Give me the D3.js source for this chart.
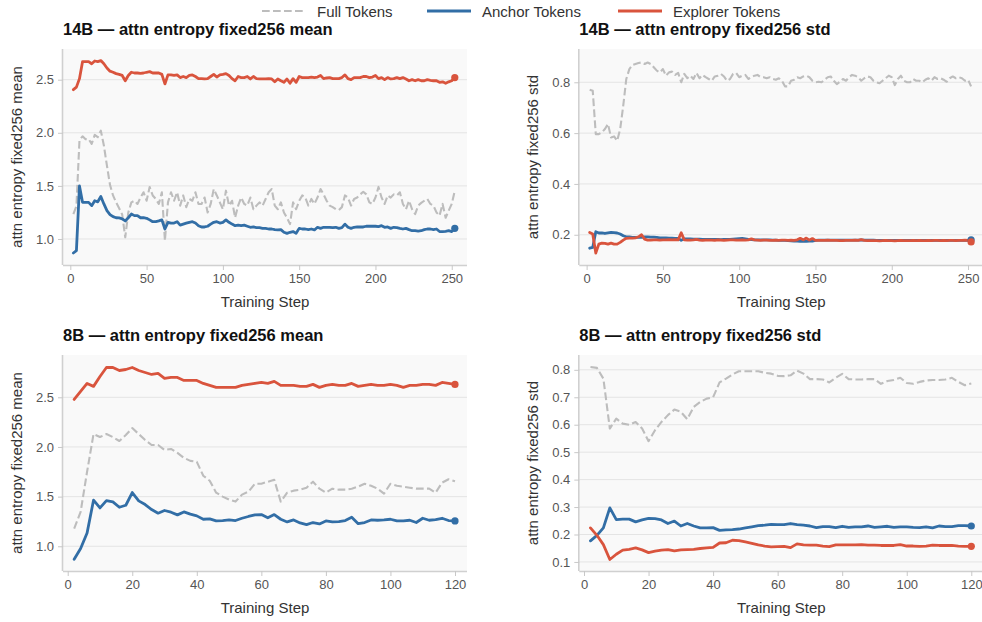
<!DOCTYPE html>
<html>
<head>
<meta charset="utf-8">
<script src="https://cdn.jsdelivr.net/npm/d3@7"></script>
<style>
  html, body { margin: 0; padding: 0; background: #ffffff; }
  svg { display: block; }
  text { font-family: "Liberation Sans", Arial, Helvetica, sans-serif; }
</style>
</head>
<body>
<svg id="chart" width="982" height="622"></svg>
<script>
// ---- data -------------------------------------------------------------
const seriesNames = ["Full Tokens", "Anchor Tokens", "Explorer Tokens"];

const steps14 = [2,4,6,8,10,12,14,16,18,20,22,24,26,28,30,32,34,36,38,40,
  42,44,46,48,50,52,54,56,58,60,62,64,66,68,70,72,74,76,78,80,
  82,84,86,88,90,92,94,96,98,100,102,104,106,108,110,112,114,116,118,120,
  122,124,126,128,130,132,134,136,138,140,142,144,146,148,150,152,154,156,158,160,
  162,164,166,168,170,172,174,176,178,180,182,184,186,188,190,192,194,196,198,200,
  202,204,206,208,210,212,214,216,218,220,222,224,226,228,230,232,234,236,238,240,
  242,244,246,248,250,252];

const full14Mean = [1.235,1.31,1.93,1.967,1.94,1.94,1.895,1.98,1.96,2.02,
  1.88,1.69,1.51,1.41,1.345,1.29,1.23,1.016,1.25,1.345,
  1.36,1.33,1.39,1.44,1.36,1.49,1.41,1.377,1.33,1.44,
  0.984,1.345,1.44,1.36,1.44,1.314,1.41,1.30,1.377,1.36,
  1.44,1.33,1.33,1.39,1.25,1.33,1.47,1.41,1.345,1.28,
  1.455,1.314,1.36,1.20,1.314,1.39,1.33,1.314,1.39,1.28,
  1.314,1.345,1.314,1.377,1.44,1.47,1.314,1.28,1.345,1.25,
  1.20,1.14,1.345,1.28,1.36,1.41,1.39,1.314,1.377,1.33,
  1.39,1.47,1.42,1.36,1.314,1.30,1.28,1.273,1.30,1.41,
  1.39,1.314,1.377,1.39,1.42,1.445,1.42,1.345,1.33,1.39,
  1.49,1.39,1.33,1.41,1.39,1.42,1.41,1.44,1.33,1.28,
  1.36,1.28,1.235,1.314,1.34,1.36,1.377,1.33,1.314,1.25,
  1.22,1.33,1.20,1.267,1.33,1.455];
const anchor14Mean = [0.868,0.89,1.50,1.345,1.345,1.345,1.314,1.36,1.35,1.40,
  1.33,1.267,1.23,1.21,1.20,1.198,1.19,1.17,1.20,1.235,
  1.22,1.22,1.20,1.20,1.195,1.18,1.163,1.163,1.17,1.18,
  1.094,1.157,1.15,1.15,1.163,1.13,1.14,1.15,1.157,1.163,
  1.15,1.125,1.113,1.113,1.12,1.14,1.157,1.163,1.15,1.157,
  1.18,1.157,1.14,1.125,1.13,1.125,1.13,1.12,1.11,1.113,
  1.107,1.107,1.10,1.10,1.094,1.094,1.088,1.085,1.088,1.063,
  1.053,1.063,1.07,1.053,1.10,1.094,1.094,1.088,1.094,1.085,
  1.11,1.10,1.11,1.11,1.11,1.107,1.11,1.10,1.107,1.14,
  1.11,1.10,1.11,1.113,1.113,1.113,1.12,1.12,1.12,1.12,
  1.116,1.125,1.11,1.113,1.10,1.11,1.107,1.10,1.094,1.10,
  1.088,1.078,1.078,1.075,1.078,1.088,1.094,1.094,1.088,1.094,
  1.07,1.07,1.072,1.078,1.07,1.10];
const explorer14Mean = [2.406,2.43,2.51,2.67,2.67,2.67,2.65,2.676,2.67,2.68,
  2.65,2.61,2.58,2.57,2.557,2.55,2.54,2.49,2.54,2.57,
  2.563,2.563,2.56,2.563,2.57,2.576,2.563,2.563,2.563,2.55,
  2.46,2.545,2.545,2.54,2.545,2.52,2.53,2.52,2.54,2.545,
  2.53,2.51,2.51,2.507,2.51,2.53,2.55,2.525,2.545,2.55,
  2.557,2.54,2.51,2.49,2.53,2.52,2.52,2.53,2.507,2.53,
  2.51,2.507,2.507,2.507,2.51,2.507,2.48,2.507,2.49,2.475,
  2.507,2.466,2.51,2.475,2.53,2.52,2.52,2.52,2.525,2.52,
  2.525,2.54,2.51,2.516,2.52,2.51,2.51,2.51,2.52,2.545,
  2.51,2.50,2.52,2.52,2.52,2.53,2.53,2.52,2.525,2.54,
  2.51,2.52,2.50,2.52,2.507,2.51,2.52,2.51,2.52,2.507,
  2.49,2.50,2.49,2.50,2.49,2.49,2.50,2.494,2.49,2.49,
  2.475,2.48,2.466,2.48,2.49,2.52];

const full14Std = [0.771,0.767,0.596,0.596,0.603,0.616,0.636,0.583,0.587,0.57,
  0.616,0.708,0.813,0.852,0.868,0.872,0.876,0.878,0.872,0.878,
  0.872,0.859,0.846,0.839,0.852,0.826,0.839,0.842,0.829,0.837,
  0.80,0.833,0.816,0.826,0.813,0.837,0.816,0.829,0.82,0.813,
  0.806,0.823,0.826,0.833,0.823,0.806,0.813,0.833,0.837,0.82,
  0.826,0.829,0.813,0.82,0.826,0.829,0.82,0.82,0.816,0.82,
  0.813,0.81,0.816,0.806,0.784,0.784,0.806,0.81,0.82,0.816,
  0.823,0.826,0.82,0.806,0.80,0.802,0.80,0.81,0.82,0.823,
  0.806,0.793,0.802,0.813,0.806,0.82,0.829,0.826,0.82,0.806,
  0.816,0.823,0.82,0.806,0.80,0.796,0.806,0.816,0.826,0.82,
  0.789,0.813,0.826,0.806,0.80,0.80,0.813,0.806,0.806,0.80,
  0.81,0.816,0.806,0.82,0.813,0.816,0.81,0.802,0.816,0.823,
  0.816,0.82,0.816,0.806,0.81,0.784];
const anchor14Std = [0.147,0.15,0.212,0.207,0.207,0.205,0.207,0.209,0.208,0.207,
  0.203,0.196,0.192,0.192,0.19,0.19,0.19,0.19,0.192,0.192,
  0.191,0.191,0.19,0.188,0.188,0.188,0.187,0.187,0.186,0.186,
  0.178,0.184,0.184,0.184,0.183,0.183,0.183,0.182,0.182,0.182,
  0.182,0.182,0.182,0.181,0.182,0.182,0.182,0.183,0.184,0.185,
  0.186,0.184,0.182,0.181,0.18,0.18,0.18,0.18,0.18,0.18,
  0.179,0.179,0.178,0.178,0.178,0.177,0.176,0.175,0.175,0.174,
  0.174,0.174,0.175,0.175,0.178,0.179,0.179,0.179,0.179,0.179,
  0.179,0.179,0.179,0.179,0.179,0.179,0.179,0.179,0.179,0.18,
  0.179,0.179,0.179,0.179,0.178,0.178,0.178,0.178,0.178,0.178,
  0.178,0.178,0.178,0.178,0.178,0.178,0.178,0.178,0.178,0.178,
  0.178,0.178,0.178,0.178,0.178,0.178,0.178,0.178,0.178,0.178,
  0.178,0.178,0.178,0.178,0.178,0.18];
const explorer14Std = [0.209,0.203,0.128,0.163,0.167,0.166,0.163,0.167,0.163,0.163,
  0.17,0.179,0.186,0.187,0.187,0.188,0.192,0.20,0.183,0.179,
  0.179,0.18,0.18,0.179,0.18,0.18,0.181,0.18,0.181,0.18,
  0.208,0.18,0.179,0.179,0.18,0.182,0.179,0.178,0.179,0.179,
  0.179,0.178,0.18,0.179,0.178,0.179,0.18,0.18,0.179,0.179,
  0.18,0.179,0.18,0.184,0.18,0.179,0.178,0.179,0.179,0.178,
  0.178,0.179,0.178,0.179,0.179,0.178,0.179,0.178,0.18,0.186,
  0.18,0.187,0.179,0.185,0.178,0.178,0.178,0.178,0.179,0.178,
  0.178,0.178,0.177,0.177,0.178,0.178,0.178,0.179,0.178,0.181,
  0.178,0.177,0.177,0.177,0.177,0.176,0.177,0.178,0.177,0.177,
  0.176,0.177,0.178,0.177,0.177,0.177,0.178,0.177,0.178,0.177,
  0.177,0.178,0.177,0.178,0.178,0.177,0.178,0.177,0.178,0.178,
  0.177,0.178,0.178,0.179,0.178,0.172];

const steps8 = [2,4,6,8,10,12,14,16,18,20,22,24,26,28,30,32,34,36,38,40,
  42,44,46,48,50,52,54,56,58,60,62,64,66,68,70,72,74,76,78,80,
  82,84,86,88,90,92,94,96,98,100,102,104,106,108,110,112,114,116,118,120];

const full8Mean = [1.178,1.346,1.75,2.13,2.10,2.13,2.10,2.06,2.12,2.19,
  2.13,2.07,2.02,2.02,1.97,1.98,1.94,1.89,1.86,1.85,
  1.71,1.66,1.54,1.50,1.47,1.45,1.52,1.55,1.63,1.63,
  1.65,1.67,1.45,1.54,1.56,1.57,1.59,1.65,1.58,1.54,
  1.58,1.57,1.57,1.58,1.60,1.63,1.61,1.58,1.53,1.63,
  1.61,1.60,1.59,1.58,1.58,1.58,1.54,1.64,1.675,1.655];
const anchor8Mean = [0.869,0.977,1.134,1.464,1.386,1.46,1.447,1.393,1.413,1.541,
  1.457,1.42,1.37,1.333,1.36,1.343,1.316,1.346,1.323,1.306,
  1.272,1.276,1.255,1.259,1.265,1.259,1.282,1.30,1.316,1.319,
  1.286,1.319,1.272,1.245,1.265,1.235,1.218,1.239,1.225,1.255,
  1.245,1.249,1.259,1.292,1.228,1.239,1.265,1.262,1.265,1.272,
  1.255,1.255,1.262,1.239,1.282,1.262,1.269,1.282,1.259,1.255];
const explorer8Mean = [2.478,2.56,2.64,2.61,2.71,2.80,2.80,2.77,2.78,2.80,
  2.77,2.75,2.73,2.74,2.69,2.70,2.70,2.67,2.67,2.67,
  2.64,2.62,2.60,2.60,2.60,2.60,2.62,2.63,2.64,2.65,
  2.64,2.66,2.62,2.62,2.62,2.61,2.61,2.63,2.60,2.62,
  2.63,2.62,2.62,2.64,2.61,2.62,2.63,2.62,2.62,2.63,
  2.62,2.60,2.62,2.62,2.63,2.63,2.62,2.65,2.64,2.63];

const full8Std = [0.81,0.807,0.768,0.586,0.622,0.604,0.60,0.61,0.586,0.54,
  0.58,0.61,0.635,0.655,0.647,0.62,0.665,0.683,0.695,0.70,
  0.754,0.768,0.783,0.795,0.795,0.795,0.795,0.789,0.786,0.778,
  0.777,0.78,0.797,0.786,0.766,0.766,0.765,0.754,0.771,0.785,
  0.766,0.765,0.765,0.766,0.766,0.749,0.759,0.763,0.771,0.752,
  0.749,0.756,0.761,0.763,0.763,0.765,0.771,0.756,0.744,0.75];
const anchor8Std = [0.177,0.197,0.224,0.297,0.254,0.256,0.256,0.246,0.253,0.259,
  0.258,0.253,0.24,0.249,0.231,0.24,0.231,0.224,0.224,0.225,
  0.215,0.217,0.218,0.22,0.224,0.228,0.232,0.234,0.237,0.236,
  0.236,0.24,0.236,0.234,0.231,0.225,0.229,0.229,0.225,0.23,
  0.226,0.228,0.228,0.231,0.226,0.228,0.23,0.226,0.228,0.228,
  0.226,0.225,0.228,0.224,0.231,0.229,0.229,0.232,0.232,0.231];
const explorer8Std = [0.224,0.197,0.163,0.109,0.128,0.143,0.146,0.151,0.144,0.134,
  0.139,0.143,0.145,0.14,0.144,0.145,0.146,0.149,0.151,0.153,
  0.169,0.17,0.179,0.178,0.173,0.168,0.162,0.158,0.155,0.156,
  0.157,0.152,0.166,0.162,0.161,0.161,0.158,0.156,0.162,0.162,
  0.162,0.162,0.163,0.161,0.161,0.16,0.16,0.16,0.163,0.158,
  0.158,0.157,0.158,0.161,0.16,0.16,0.16,0.158,0.157,0.157];

const xTicks14 = [0, 50, 100, 150, 200, 250];
const xTicks8 = [0, 20, 40, 60, 80, 100, 120];
const yTicksMean = [1.0, 1.5, 2.0, 2.5];
const yTicks14Std = [0.2, 0.4, 0.6, 0.8];
const yTicks8Std = [0.1, 0.2, 0.3, 0.4, 0.5, 0.6, 0.7, 0.8];

// ---- panel definitions --------------------------------------------------
const panels = [
  { title: "14B — attn entropy fixed256 mean", ylabel: "attn entropy fixed256 mean",
    steps: steps14, full: full14Mean, anchor: anchor14Mean, explorer: explorer14Mean,
    xTicks: xTicks14, yTicks: yTicksMean,
    xDomain: [-4.8, 260.0], yDomain: [0.755, 2.789], left: 63, top: 49 },
  { title: "14B — attn entropy fixed256 std", ylabel: "attn entropy fixed256 std",
    steps: steps14, full: full14Std, anchor: anchor14Std, explorer: explorer14Std,
    xTicks: xTicks14, yTicks: yTicks14Std,
    xDomain: [-4.8, 260.0], yDomain: [0.081, 0.931], left: 579.3, top: 49 },
  { title: "8B — attn entropy fixed256 mean", ylabel: "attn entropy fixed256 mean",
    steps: steps8, full: full8Mean, anchor: anchor8Mean, explorer: explorer8Mean,
    xTicks: xTicks8, yTicks: yTicksMean,
    xDomain: [-1.46, 123.72], yDomain: [0.751, 2.926], left: 63, top: 355 },
  { title: "8B — attn entropy fixed256 std", ylabel: "attn entropy fixed256 std",
    steps: steps8, full: full8Std, anchor: anchor8Std, explorer: explorer8Std,
    xTicks: xTicks8, yTicks: yTicks8Std,
    xDomain: [-1.46, 123.72], yDomain: [0.067, 0.854], left: 579.3, top: 355 }
];

const W = 404, H = 216;
const colors = { full: "#bdbdbd", anchor: "#326ea6", explorer: "#d9543d" };

const svg = d3.select("#chart");

panels.forEach(p => {
  const g = svg.append("g").attr("transform", `translate(${p.left},${p.top})`);
  const x = d3.scaleLinear().domain(p.xDomain).range([0, W]);
  const y = d3.scaleLinear().domain(p.yDomain).range([H, 0]);

  g.append("rect").attr("width", W).attr("height", H).attr("fill", "#f9f9f9");

  // horizontal grid
  g.append("g").selectAll("line").data(p.yTicks).join("line")
    .attr("x1", 0).attr("x2", W)
    .attr("y1", d => y(d)).attr("y2", d => y(d))
    .attr("stroke", "#e4e4e4").attr("stroke-width", 1);

  const clipId = "clip" + p.left + "_" + p.top;
  g.append("clipPath").attr("id", clipId)
    .append("rect").attr("x", 0).attr("y", 0).attr("width", W).attr("height", H);

  const line = (vals) => d3.line()
    .x((d, i) => x(p.steps[i]))
    .y(d => y(d))(vals);

  const plot = g.append("g").attr("clip-path", `url(#${clipId})`);

  plot.append("path").attr("d", line(p.full))
    .attr("fill", "none").attr("stroke", colors.full)
    .attr("stroke-width", 2.1).attr("stroke-dasharray", "7.7,3.3")
    .attr("stroke-linejoin", "round");

  plot.append("path").attr("d", line(p.anchor))
    .attr("fill", "none").attr("stroke", colors.anchor)
    .attr("stroke-width", 2.8).attr("stroke-linejoin", "round").attr("stroke-linecap", "round");

  plot.append("path").attr("d", line(p.explorer))
    .attr("fill", "none").attr("stroke", colors.explorer)
    .attr("stroke-width", 2.8).attr("stroke-linejoin", "round").attr("stroke-linecap", "round");

  // end markers
  const last = p.steps.length - 1;
  [["anchor", p.anchor], ["explorer", p.explorer]].forEach(([k, vals]) => {
    g.append("circle")
      .attr("cx", x(p.steps[last])).attr("cy", y(vals[last]))
      .attr("r", 3.6).attr("fill", colors[k]);
  });

  // axes
  const xAxis = d3.axisBottom(x).tickValues(p.xTicks).tickSize(5).tickSizeOuter(0).tickPadding(4)
    .tickFormat(d3.format("d"));
  const yAxis = d3.axisLeft(y).tickValues(p.yTicks).tickSize(5).tickSizeOuter(0).tickPadding(4)
    .tickFormat(d3.format(".1f"));

  const gx = g.append("g").attr("transform", `translate(0,${H})`).call(xAxis);
  const gy = g.append("g").call(yAxis);
  [gx, gy].forEach(a => {
    a.select(".domain").attr("stroke", "#d0d0d0").attr("stroke-width", 1.6);
    a.selectAll(".tick line").attr("stroke", "#c8c8c8").attr("stroke-width", 1);
    a.selectAll(".tick text").attr("fill", "#555555").style("font-size", "13px");
  });
  // extend the spines over the full plot box
  gx.select(".domain").attr("d", `M0,0.5H${W}`);
  gy.select(".domain").attr("d", `M-0.5,0V${H}`);

  // labels
  g.append("text").attr("x", W / 2).attr("y", H + 42)
    .attr("text-anchor", "middle").attr("fill", "#333333")
    .style("font-size", "15px").text("Training Step");

  g.append("text")
    .attr("transform", `translate(-41,${H / 2}) rotate(-90)`)
    .attr("text-anchor", "middle").attr("fill", "#333333")
    .style("font-size", "15px").text(p.ylabel);

  g.append("text").attr("x", 0).attr("y", -14)
    .attr("fill", "#111111").style("font-size", "16.5px").style("font-weight", "bold")
    .text(p.title);
});

// ---- legend --------------------------------------------------------------
const legendItems = [
  { name: seriesNames[0], key: "full", x: 262 },
  { name: seriesNames[1], key: "anchor", x: 427 },
  { name: seriesNames[2], key: "explorer", x: 618 }
];
const lg = svg.append("g").attr("transform", "translate(0,11)");
legendItems.forEach(it => {
  lg.append("line").attr("x1", it.x).attr("x2", it.x + 44).attr("y1", 0).attr("y2", 0)
    .attr("stroke", colors[it.key])
    .attr("stroke-width", it.key === "full" ? 2.1 : 2.8)
    .attr("stroke-dasharray", it.key === "full" ? "7.7,3.3" : null);
  lg.append("text").attr("x", it.x + 55).attr("y", 5.5)
    .attr("fill", "#333333").style("font-size", "15px").text(it.name);
});
</script>
</body>
</html>
